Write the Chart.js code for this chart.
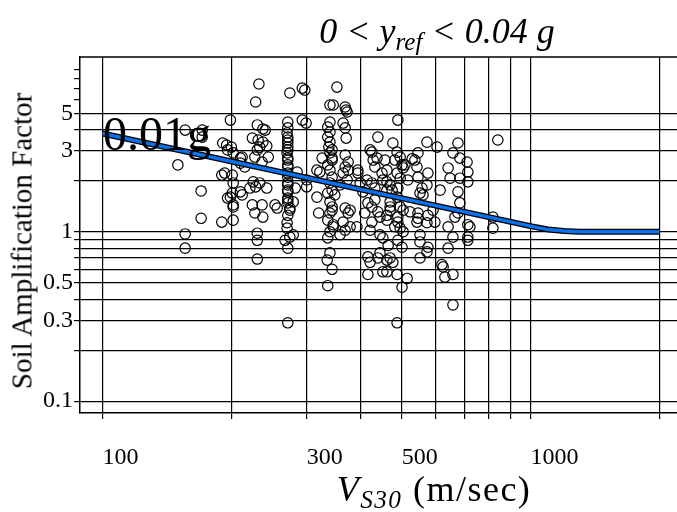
<!DOCTYPE html>
<html><head><meta charset="utf-8">
<script src="https://cdn.jsdelivr.net/npm/chart.js@4/dist/chart.umd.min.js"></script>
<style>
html,body{margin:0;padding:0;background:#fff;}
#wrap{position:relative;width:677px;height:512px;overflow:hidden;background:#fff;}
canvas{position:absolute;left:0;top:0;}
.t{position:absolute;font-family:'Liberation Serif','Times New Roman',serif;color:#000;white-space:nowrap;line-height:1;}
.t sub{font-size:0.7em;vertical-align:-0.28em;line-height:0;}
</style></head><body>
<div id="wrap">
<canvas id="c" width="677" height="512"></canvas>
<div class="t" id="title" style="left:437px;top:13px;transform:translateX(-50%);font-size:36px;font-style:italic;">0 &lt; y<sub>ref</sub> &lt; 0.04 g</div>
<div class="t" id="xtitle" style="left:434px;top:471px;transform:translateX(-50%);font-size:36px;letter-spacing:1.5px;"><i>V<sub>S30</sub></i> (m/sec)</div>
<div class="t" id="ytitle" style="left:22px;top:241px;transform:translate(-50%,-50%) rotate(-90deg);font-size:29px;">Soil Amplification Factor</div>
<div class="t" id="note" style="left:103px;top:110px;font-size:48px;">0.01g</div>
</div>
<script>
// Observed data: Vs30 (m/sec) and soil amplification factor
const vs30Obs = [150,156,156,156,171,171,170,170,199,191,195,200,196,202,210,190,193,201,202,201,199,202,190,202,210,212,196,202,210,212,
232,228,230,237,224,231,230,242,244,227,215,233,228,221,224,236,227,237,253,256,230,230,230,240,237,242,233,236,225,
274,271,270,271,271,271,270,271,271,271,271,271,271,271,271,271,271,271,274,271,270,274,271,271,271,271,271,271,271,
293,297,293,299,285,279,300,300,282,274,279,267,270,
326,317,322,317,320,
353,340,346,340,336,340,336,340,338,344,340,344,344,336,340,344,340,344,336,349,340,344,344,340,336,346,340,336,346,340,335,344,336,
369,373,371,365,369,371,369,375,369,375,365,373,359,369,379,375,365,379,369,359,393,
395,400,415,426,433,406,440,426,438,433,450,422,429,462,462,395,417,426,440,410,426,445,433,445,422,417,422,440,417,452,445,
490,477,488,496,482,457,501,504,462,452,470,488,496,490,475,488,496,470,490,462,482,504,470,470,504,490,462,523,496,490,501,465,452,470,477,462,462,488,515,501,488,
509,517,529,543,546,537,573,605,576,546,573,558,552,615,561,592,546,543,573,576,598,546,552,552,576,573,552,
677,659,684,711,642,714,649,684,714,677,684,677,666,642,659,714,722,714,714,642,621,625,631,659,659,
839,817,817];
const ampObs = [2.48,3.98,0.97,0.80,3.98,3.62,1.74,1.20,4.56,3.34,3.25,3.16,3.04,2.92,2.72,2.16,2.22,2.16,1.94,1.69,1.60,1.44,1.14,1.17,1.72,1.65,1.58,1.40,2.54,2.76,
7.45,5.83,4.27,4.04,3.57,3.48,3.04,3.21,2.76,2.76,2.41,1.94,1.84,1.81,1.44,1.44,1.29,1.22,1.44,1.38,0.98,0.89,0.69,3.98,3.38,1.81,3.16,2.58,1.97,
6.59,4.44,3.83,3.62,3.48,3.16,2.92,2.72,2.48,2.41,2.22,2.10,1.94,1.89,1.76,1.72,1.58,1.54,1.38,1.25,1.05,0.93,0.80,0.29,1.48,2.65,3.04,3.34,4.10,
7.05,6.86,4.56,4.38,2.25,1.50,1.84,2.02,1.81,1.34,0.96,0.89,1.13,
2.72,2.31,2.25,1.60,1.29,
7.14,5.60,5.60,4.44,4.15,3.88,3.62,3.38,3.16,3.04,2.92,2.72,2.65,2.48,2.31,2.10,1.94,1.76,1.69,1.65,1.50,1.40,1.34,1.29,1.17,1.10,1.00,0.92,1.07,0.75,0.68,0.60,0.48,
5.45,5.09,5.23,4.38,4.10,3.57,2.84,2.58,2.41,2.31,2.22,2.02,1.89,1.38,1.34,1.29,1.14,1.07,1.02,0.96,1.07,
2.22,1.94,2.02,1.94,1.81,1.72,3.62,2.95,2.72,2.41,2.22,3.04,2.65,1.97,1.76,2.31,1.48,1.40,1.31,1.29,1.14,0.96,1.54,1.22,1.02,0.71,0.66,0.70,0.56,0.58,0.75,
4.56,3.34,2.95,2.76,2.65,2.65,2.48,2.38,2.31,2.02,1.89,2.22,2.07,1.81,1.76,1.60,1.40,1.40,1.22,1.17,1.07,1.00,1.50,1.34,1.34,1.14,1.25,1.31,1.05,0.89,0.81,0.83,0.92,0.70,0.66,0.68,0.58,0.56,0.53,0.47,0.29,
2.48,2.02,2.69,2.41,2.92,2.65,3.38,3.16,2.22,2.10,1.89,1.81,1.69,1.76,1.65,1.34,1.29,1.14,1.13,1.25,1.14,1.20,0.96,0.87,0.81,0.76,0.70,
3.34,2.92,2.72,2.58,2.38,2.25,2.07,2.07,1.97,1.72,1.48,1.29,1.22,1.07,0.93,1.10,1.07,0.93,0.89,0.80,0.64,0.62,0.54,0.56,0.37,
3.48,1.22,1.05];
// Amplification curve for 0.01g
const curveVs30 = [100, 1000, 1100, 1200, 1300, 2000];
const curveAmp  = [3.8, 1.08, 1.03, 1.01, 1.0, 1.0];
// Axis ticks
const xTickValues = [100,200,300,400,500,600,700,800,900,1000,2000];
const xTickLabels = ['100','','300','','500','','','','','1000',''];
const yTickValues = [0.1,0.2,0.3,0.4,0.5,0.6,0.7,0.8,0.9,1,2,3,4,5,6,7,8,9];
const yTickLabels = ['0.1','','0.3','','0.5','','','','','1','','3','','5','','','',''];
const xRange = [88.6, 2200];
const yRange = [0.0851, 10.75];

const pts = vs30Obs.map((v,i)=>({x:v, y:ampObs[i]}));
const curve = curveVs30.map((v,i)=>({x:v, y:curveAmp[i]}));
const FONT = "'Liberation Serif','Times New Roman',serif";

const framePlugin = {
  id:'frame',
  beforeDatasetsDraw(chart){
    const {ctx, chartArea:a} = chart;
    ctx.save();
    ctx.strokeStyle = '#000'; ctx.lineWidth = 1.5;
    ctx.beginPath(); ctx.moveTo(a.left, a.top); ctx.lineTo(a.right, a.top); ctx.stroke();
    ctx.restore();
  }
};

new Chart(document.getElementById('c'), {
  type:'scatter',
  data:{datasets:[
    {label:'obs', data:pts, pointRadius:5.2, pointHoverRadius:5.2, pointStyle:'circle', borderColor:'#000', backgroundColor:'rgba(0,0,0,0)', borderWidth:1.2, pointBorderWidth:1.2, order:3},
    {label:'curveOutline', data:curve, showLine:true, pointRadius:0, borderColor:'#000', borderWidth:6, tension:0, order:2},
    {label:'curve', data:curve, showLine:true, pointRadius:0, borderColor:'#0a72ee', borderWidth:3.4, tension:0, order:1}
  ]},
  options:{
    responsive:false, animation:false, devicePixelRatio:1,
    layout:{autoPadding:false, padding:{top:57,left:0,right:0,bottom:0}},
    plugins:{legend:{display:false}, tooltip:{enabled:false}, title:{display:false}},
    scales:{
      x:{type:'logarithmic', min:xRange[0], max:xRange[1], offset:false,
        afterFit:s=>{s.height = 99; s.paddingLeft = 0; s.paddingRight = 0;},
        afterBuildTicks:s=>{s.ticks = xTickValues.map(v=>({value:v}));},
        grid:{color:'#000', lineWidth:1.2, tickLength:6, tickColor:'#000', drawOnChartArea:true},
        border:{display:true, color:'#000', width:1.5},
        ticks:{autoSkip:false, maxRotation:0, minRotation:0, align:'start', padding:24, color:'#000',
          font:{family:FONT, size:24},
          callback:(v,i)=>xTickLabels[i]}
      },
      y:{type:'logarithmic', min:yRange[0], max:yRange[1],
        afterFit:s=>{s.width = 80; s.paddingTop = 0; s.paddingBottom = 0;},
        afterBuildTicks:s=>{s.ticks = yTickValues.map(v=>({value:v}));},
        grid:{color:c=> (c.tick && c.tick.value > 5.5) ? 'rgba(0,0,0,0)' : '#000', lineWidth:1.2, tickLength:6, tickColor:'#000'},
        border:{display:true, color:'#000', width:1.5},
        ticks:{autoSkip:false, padding:1, color:'#000', font:{family:FONT, size:24},
          callback:(v,i)=>yTickLabels[i]}
      }
    }
  },
  plugins:[framePlugin]
});
</script>
</body></html>
